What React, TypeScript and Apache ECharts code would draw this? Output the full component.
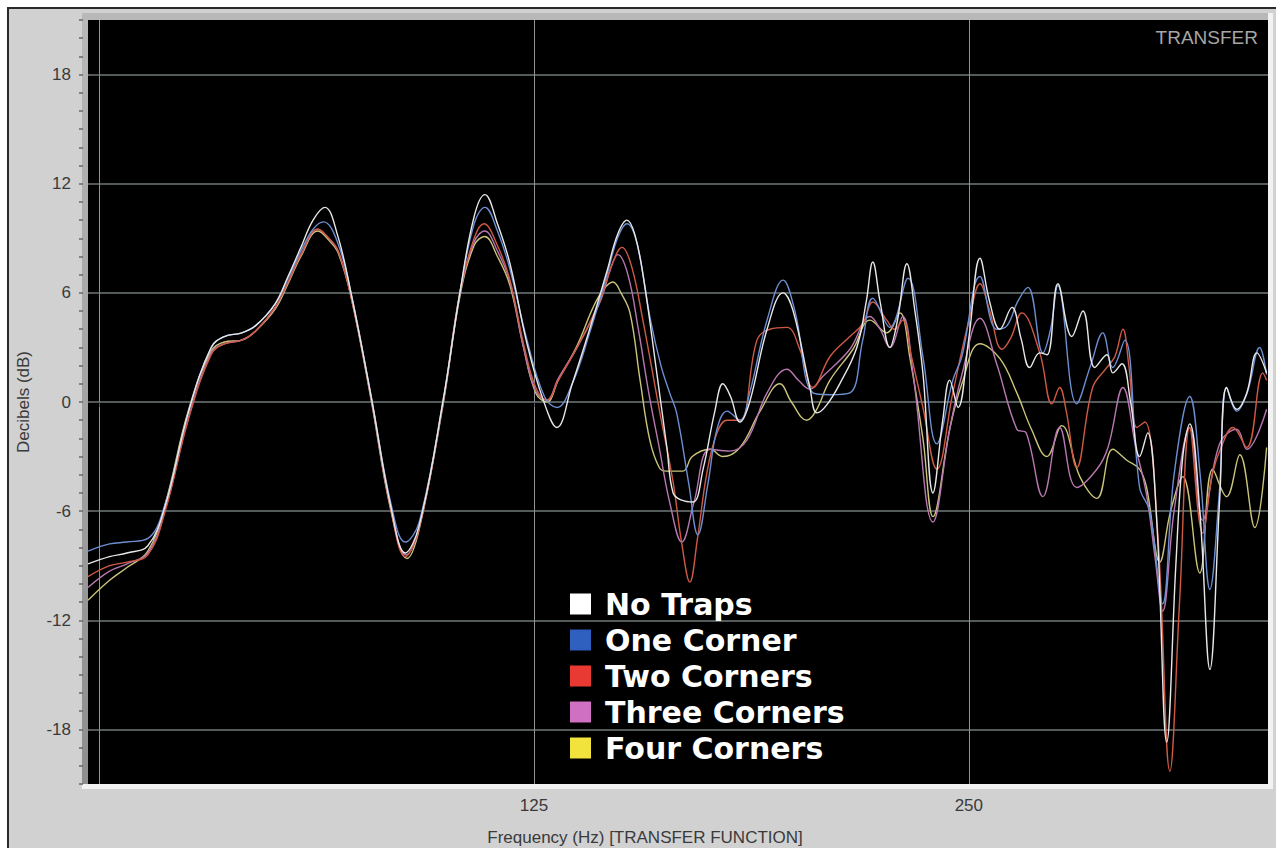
import React, { useEffect, useRef } from "react";
import * as echarts from "echarts";

// ---- data (frequency Hz, level dB) ----
const seriesNames = ["No Traps", "One Corner", "Two Corners", "Three Corners", "Four Corners"];
const lineColors = ["#e8e8e8", "#6d8fd2", "#cf5a44", "#b877b0", "#cbc57a"];
const legendColors = ["#ffffff", "#2f5fbf", "#e83a32", "#cf70c2", "#f2e23c"];
const yTickValues = [-18, -12, -6, 0, 6, 12, 18];
const xGridValues = [0, 125, 250];
const xLabelValues = [125, 250];

const noTraps = [[-3.2,-8.9],[3,-8.5],[8,-8.3],[14,-7.9],[19,-5.7],[25.6,-0.6],[32.2,3.0],[36,3.6],[41,3.8],[45,4.2],[50.6,5.4],[54.3,6.9],[58,8.5],[61.5,10.0],[64.9,10.7],[68.5,9.2],[72.4,6.0],[78.2,0.3],[83.9,-5.8],[88,-8.3],[92,-6.8],[98.9,0.1],[103.7,6.0],[107.8,10.2],[110.9,11.4],[114.5,9.8],[118.1,7.6],[123,3.2],[127.5,0.2],[131.6,-1.4],[136,1.0],[141,4.0],[146,7.2],[149,9.2],[151.7,10.0],[154,9.2],[156.5,6.8],[160.3,1.6],[163.2,-2.5],[165,-5.0],[167.5,-5.4],[170.7,-5.5],[173.6,-3.7],[177,-0.5],[179.3,1.0],[181.5,0.3],[184.2,-1.1],[187,0.0],[192,4.0],[196.6,6.0],[199.5,5.0],[204.3,0.8],[206.3,-0.6],[209,-0.2],[212.9,1.0],[217.8,3.0],[220.5,5.5],[222.4,7.7],[224.5,5.5],[227.3,3.0],[229.5,4.5],[232.2,7.6],[234.5,5.0],[236.8,1.6],[239.7,-5.0],[242.5,-1.0],[244.5,1.2],[246.9,-0.3],[250,3.5],[253.2,7.9],[256,5.5],[258.9,4.0],[262.4,5.2],[265,3.5],[267.5,1.9],[270.4,2.7],[272.5,2.6],[275.6,6.5],[279.6,3.6],[282.8,5.0],[286.2,1.9],[289.7,2.6],[291.4,1.6],[294,2.1],[296.5,0],[299.1,-3.0],[301.4,-1.7],[304,-6.5],[306.9,-18.7],[309.5,-9],[311.5,-3],[313.5,-1.2],[316.4,-6],[319.3,-14.7],[322.1,-5.4],[324.1,0.8],[327,-0.4],[329.9,0.5],[332.8,2.7],[335.6,1.6]];

const oneCorner = [[-3.2,-8.2],[3,-7.8],[8,-7.7],[14,-7.5],[19,-5.6],[25.6,-0.6],[32.2,3.0],[36,3.6],[41,3.8],[45,4.2],[50.6,5.4],[54.3,6.8],[58,8.3],[61.5,9.5],[64.5,9.9],[68.5,8.8],[72.4,6.0],[78.2,0.3],[83.9,-5.6],[88,-7.7],[92,-6.6],[98.9,0.1],[103.7,6.0],[107.8,9.8],[110.9,10.7],[114.5,9.4],[118.1,7.3],[123,3.4],[128,0.3],[131.6,-0.3],[136,1.0],[141,3.8],[146,7.0],[149,9.0],[151.7,9.8],[154.5,8.8],[158.5,4.5],[161.5,2.0],[164,0.5],[166,-0.6],[169.5,-4.5],[172.1,-7.3],[175,-4.5],[177.6,-1.5],[180.5,-0.5],[184.2,-1.0],[187,0.5],[192,4.5],[196.6,6.7],[200,5.0],[205.2,0.5],[210,0.4],[215.8,0.5],[219.5,3.4],[222.4,5.7],[227.3,4.1],[232.5,6.8],[236.8,2.5],[240.8,-2.3],[245.4,1.2],[248,2.5],[253.2,6.9],[258,4.0],[261,4.2],[264,5.5],[267,6.3],[271.3,2.7],[273.5,4.0],[275.6,6.4],[281,-0.1],[285,2.0],[288.5,3.8],[291.4,1.9],[294.8,3.4],[299.1,-4.7],[302,-6],[305.7,-11.1],[309,-4],[313.5,0.3],[316.5,-4],[319.3,-10.3],[322,-5],[324.1,0.8],[327,-0.5],[330,0.5],[333.6,3.0],[335.6,1.5]];

const twoCorners = [[-3.2,-9.6],[3,-9.0],[8,-8.8],[14,-8.4],[19,-6.0],[25.6,-1.0],[32.2,2.6],[36,3.2],[41,3.4],[45,3.9],[50.6,5.2],[54.3,6.6],[58,8.1],[62.9,9.5],[66,9.0],[68.7,8.3],[72.4,5.8],[78.2,0.2],[83.9,-5.9],[88,-8.5],[92,-6.9],[98.9,0.0],[103.7,6.0],[107.8,9.0],[110.6,9.8],[114.5,8.6],[118.1,6.7],[122,3.2],[125.5,0.8],[128.7,0.1],[132,1.2],[137.4,3.0],[144,5.6],[147.5,7.6],[150.3,8.5],[153,7.5],[156.3,4.5],[161.2,-0.6],[164.9,-4.3],[167.5,-7.8],[169.8,-9.9],[172,-7.5],[174.7,-3.9],[177.6,-1.7],[180.5,-1.0],[184.2,-1.0],[189.1,3.4],[192.8,4.0],[197.7,4.1],[201.4,2.9],[205.2,0.8],[210.1,2.5],[215.8,3.6],[219.5,4.3],[222.4,5.5],[226.4,4.5],[228.7,4.0],[231,4.5],[233.5,2.5],[236.8,-0.3],[240.8,-3.7],[245.4,0.5],[250.3,4.7],[253.2,6.5],[256,5],[259.5,2.9],[262,3.5],[265.2,4.9],[270.4,2.7],[273.9,-0.1],[276.1,0.8],[278,-0.5],[281,-3.6],[285.6,0.8],[289.7,1.9],[292,2.5],[294.3,4.0],[296,2],[298.3,-1.4],[300.6,-1.1],[304.3,-7.2],[307.8,-20.3],[310.6,-10.9],[313.5,-1.4],[317.2,-7.2],[320.1,-3.9],[322.5,-2.5],[325.9,-1.4],[329.9,-2.5],[334.5,1.6],[335.6,1.2]];

const threeCorners = [[-3.2,-10.2],[3,-9.3],[8,-8.9],[14,-8.3],[19,-5.9],[25.6,-0.9],[32.2,2.7],[36,3.2],[41,3.4],[45,3.9],[50.6,5.2],[54.3,6.6],[58,8.1],[62.9,9.5],[66,9.0],[68.7,8.3],[72.4,5.9],[78.2,0.2],[83.9,-5.9],[88.3,-8.4],[92,-6.9],[98.9,0.0],[103.7,6.0],[107.8,8.8],[110.8,9.4],[114.5,8.3],[118.1,6.6],[122,3.0],[125.5,0.6],[128.7,0.1],[132,1.3],[137.4,3.0],[144,5.5],[147,7.3],[149.1,8.1],[152,7.0],[155,4.0],[158,0.5],[161,-2.5],[164,-5.5],[167.5,-7.7],[171,-5.5],[175.6,-2.6],[181.3,-2.7],[186.2,-2.1],[192,0.5],[197.7,1.8],[201,1.2],[204.3,0.7],[208,1.4],[215.8,2.9],[221.6,4.7],[224.5,4.0],[227.3,3.0],[231,4.7],[234,1.5],[239.7,-6.6],[244.5,-1.5],[248,1.5],[253.2,4.6],[258,2.1],[263.8,-1.5],[266.5,-1.7],[271.3,-5.2],[276.1,-1.4],[281,-4.7],[286.8,-3.7],[290,-2.5],[294.3,0.8],[298,-2.5],[301,-5],[303.5,-8.5],[305.7,-11.5],[309,-6],[313.5,-1.4],[317.2,-6.5],[322.1,-2.3],[327,-1.5],[329.9,-2.6],[335.6,-0.4]];

const fourCorners = [[-3.2,-10.9],[3,-9.8],[8,-9.1],[14,-8.2],[19,-5.6],[25.6,-0.5],[32.2,2.8],[36,3.3],[41,3.4],[45,3.9],[50.6,5.1],[54.3,6.5],[58,8.0],[62.9,9.4],[66,8.9],[68.7,8.2],[72.4,5.8],[78.2,0.1],[83.9,-6.0],[88.5,-8.6],[92,-7.0],[98.9,-0.1],[103.7,5.8],[107.8,8.6],[110.8,9.1],[114.5,8.0],[118.1,6.4],[122,3.0],[125.5,0.5],[128.7,0.0],[132,1.2],[137.4,3.1],[142,5.2],[145,6.2],[147.7,6.6],[150,6.0],[152.6,4.9],[155.5,1.2],[158.3,-2.1],[161,-3.6],[163,-3.8],[167.8,-3.8],[170.5,-3.0],[175.6,-2.6],[179.3,-3.0],[184.2,-2.5],[190,-0.5],[195.7,1.0],[199,0.0],[203.4,-1.0],[206,-0.5],[210.1,1.2],[216.7,2.9],[221.6,4.5],[226.4,3.8],[230.2,4.9],[233,2.5],[236.8,-2.0],[239.7,-6.3],[244.5,-1.5],[248,1.0],[253.2,3.2],[258.9,2.4],[263.8,0.5],[268,-1.5],[272.4,-3.0],[276.7,-1.3],[281.9,-4.1],[286.8,-5.3],[291.4,-2.6],[295.4,-3.2],[299.1,-3.7],[301.1,-4.7],[304.9,-8.8],[308,-6],[311.5,-4.1],[316.4,-9.4],[320.1,-3.7],[324.1,-5.2],[327.9,-2.9],[332.2,-6.9],[335.6,-2.5]];

const seriesData = [noTraps, oneCorner, twoCorners, threeCorners, fourCorners];
const seriesZ = [7, 6, 5, 4, 3];

const FONT = "'Liberation Sans', Arial, sans-serif";

export default function App() {
  const ref = useRef<HTMLDivElement>(null);

  useEffect(() => {
    if (!ref.current) return;
    const chart = echarts.init(ref.current, undefined, { renderer: "svg" });
    const option: any = {
      animation: false,
      backgroundColor: "#ffffff",
      textStyle: { fontFamily: FONT },
      graphic: [
        { type: "rect", z: -5, shape: { x: 8, y: 8, width: 1272, height: 844 }, style: { fill: "#d1d1d1", stroke: "#2a2a2a", lineWidth: 2 } },
        { type: "rect", z: -4, shape: { x: 82, y: 13, width: 1191, height: 776 }, style: { fill: "#f2f2f2" } },
        {
          type: "rect", z: -3, shape: { x: 82, y: 13, width: 1186, height: 771 },
          style: {
            fill: new echarts.graphic.LinearGradient(0, 0, 0, 1, [
              { offset: 0, color: "#b8b8b8" },
              { offset: 1, color: "#8e8e8e" },
            ]),
          },
        },
        { type: "rect", z: -2, shape: { x: 88, y: 20, width: 1180, height: 764 }, style: { fill: "#000000" } },
        {
          type: "text", z: 10, x: 1258, y: 37,
          style: { text: "TRANSFER", fill: "#a6a6a6", font: `19px ${FONT}`, textAlign: "right", textVerticalAlign: "middle" },
        },
        {
          type: "text", z: 10, x: 645, y: 837,
          style: { text: "Frequency (Hz) [TRANSFER FUNCTION]", fill: "#3a3a3a", font: `17px ${FONT}`, textAlign: "center", textVerticalAlign: "middle" },
        },
        {
          type: "text", z: 10, x: 23, y: 402, rotation: Math.PI / 2,
          style: { text: "Decibels (dB)", fill: "#3a3a3a", font: `17px ${FONT}`, textAlign: "center", textVerticalAlign: "middle" },
        },
      ],
      grid: { left: 88, top: 20, right: 8, bottom: 64, show: false },
      xAxis: {
        type: "value",
        min: -3.2,
        max: 336,
        position: "bottom",
        axisLine: { show: false },
        axisTick: { show: true, customValues: xGridValues, length: 5, lineStyle: { color: "#555" } },
        axisLabel: { customValues: xLabelValues, margin: 13, fontSize: 17, color: "#3a3a3a", fontFamily: FONT },
        splitLine: { show: true, lineStyle: { color: "#8e9494", width: 1 } },
      },
      yAxis: [
        {
          type: "value",
          min: -21,
          max: 21,
          position: "left",
          offset: 5,
          axisLine: { show: false },
          axisTick: { show: true, customValues: yTickValues, length: 7, lineStyle: { color: "#555", width: 1.5 } },
          axisLabel: { customValues: yTickValues, margin: 12, fontSize: 17, color: "#3a3a3a", fontFamily: FONT },
          splitLine: { show: true, lineStyle: { color: "#6f7a7a", width: 1.5 } },
        },
        {
          type: "value",
          min: -21,
          max: 21,
          interval: 1,
          position: "left",
          offset: 5,
          axisLine: { show: false },
          axisTick: { show: true, length: 4, lineStyle: { color: "#666", width: 1.5 } },
          axisLabel: { show: false },
          splitLine: { show: false },
        },
      ],
      legend: {
        orient: "vertical",
        left: 570,
        top: 589,
        padding: 0,
        icon: "rect",
        itemWidth: 21,
        itemHeight: 21,
        itemGap: 6,
        selectedMode: false,
        textStyle: {
          color: "#ffffff",
          fontSize: 30,
          fontWeight: "bold",
          fontFamily: "'DejaVu Sans', sans-serif",
          lineHeight: 30,
          padding: [0, 0, 0, 9],
        },
        data: seriesNames.map((n, i) => ({ name: n, itemStyle: { color: legendColors[i], borderWidth: 0 } })),
      },
      series: seriesNames.map((name, i) => ({
        name,
        type: "line",
        xAxisIndex: 0,
        yAxisIndex: 0,
        data: seriesData[i],
        showSymbol: false,
        symbol: "none",
        smooth: 0.4,
        z: seriesZ[i],
        itemStyle: { color: legendColors[i] },
        lineStyle: { color: lineColors[i], width: 1.4 },
      })),
    };
    chart.setOption(option);
    return () => chart.dispose();
  }, []);

  return (
    <div
      ref={ref}
      style={{ position: "fixed", left: 0, top: 0, width: 1276, height: 848 }}
    />
  );
}
